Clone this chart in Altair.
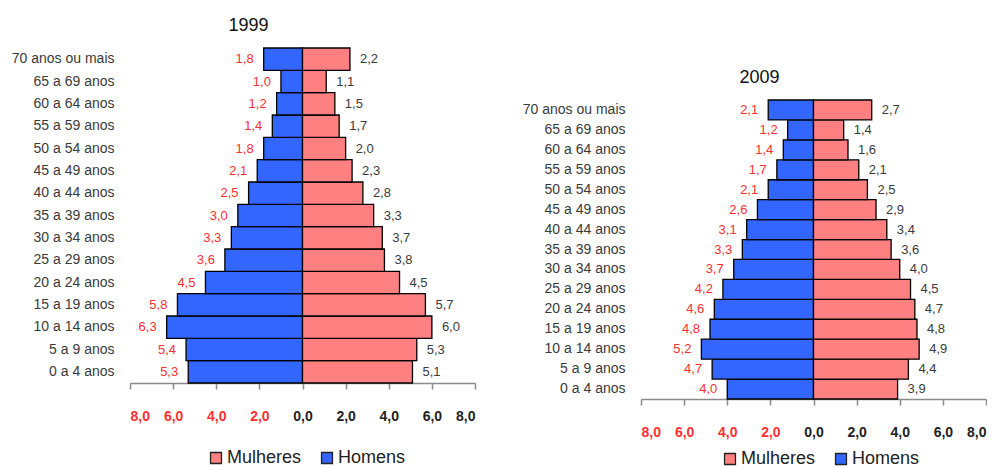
import altair as alt
import pandas as pd

ages = ["0 a 4 anos", "5 a 9 anos", "10 a 14 anos", "15 a 19 anos", "20 a 24 anos",
        "25 a 29 anos", "30 a 34 anos", "35 a 39 anos", "40 a 44 anos", "45 a 49 anos",
        "50 a 54 anos", "55 a 59 anos", "60 a 64 anos", "65 a 69 anos", "70 anos ou mais"]

homens_1999 = [5.3, 5.4, 6.3, 5.8, 4.5, 3.6, 3.3, 3.0, 2.5, 2.1, 1.8, 1.4, 1.2, 1.0, 1.8]
mulheres_1999 = [5.1, 5.3, 6.0, 5.7, 4.5, 3.8, 3.7, 3.3, 2.8, 2.3, 2.0, 1.7, 1.5, 1.1, 2.2]
homens_2009 = [4.0, 4.7, 5.2, 4.8, 4.6, 4.2, 3.7, 3.3, 3.1, 2.6, 2.1, 1.7, 1.4, 1.2, 2.1]
mulheres_2009 = [3.9, 4.4, 4.9, 4.8, 4.7, 4.5, 4.0, 3.6, 3.4, 2.9, 2.5, 2.1, 1.6, 1.4, 2.7]

sexes = ["Mulheres", "Homens"]
ticks = [-8, -6, -4, -2, 0, 2, 4, 6, 8]

PINK = "#FF8080"
BLUE = "#3366FF"
RED_TXT = "#FF3030"
GREY_TXT = "#3a3a3a"
FONT = "Liberation Sans, Arial, sans-serif"


def frame(homens, mulheres):
    rows = []
    for a, h, m in zip(ages, homens, mulheres):
        rows.append({"age": a, "sex": "Homens", "value": h, "signed": -h,
                     "label": f"{h:.1f}".replace(".", ",")})
        rows.append({"age": a, "sex": "Mulheres", "value": m, "signed": m,
                     "label": f"{m:.1f}".replace(".", ",")})
    return pd.DataFrame(rows)


def panel(year, homens, mulheres, height, legend_x, legend_y):
    df = frame(homens, mulheres)
    base = alt.Chart(df)
    order = list(reversed(ages))
    x = alt.X("signed:Q",
              scale=alt.Scale(domain=[-8, 8], nice=False, zero=False),
              axis=alt.Axis(values=ticks, title=None, grid=False,
                            labelExpr="replace(format(abs(datum.value), '.1f'), '.', ',')",
                            labelColor={"condition": {"test": "datum.value < 0", "value": RED_TXT},
                                        "value": "#222222"},
                            labelFont=FONT, labelFontSize=14, labelFontWeight="bold",
                            labelPadding=20, domainColor="#8a8a8a", domainWidth=1.5,
                            tickColor="#8a8a8a", tickSize=6, tickWidth=1.5))
    y = alt.Y("age:N", sort=order,
              scale=alt.Scale(paddingInner=0, paddingOuter=0),
              axis=alt.Axis(title=None, domain=False, ticks=False, labelPadding=16,
                            labelFont=FONT, labelFontSize=14, labelColor=GREY_TXT))
    bars = base.mark_bar(stroke="black", strokeWidth=1.3).encode(
        x=x, y=y,
        color=alt.Color("sex:N", scale=alt.Scale(domain=sexes, range=[PINK, BLUE]),
                        legend=alt.Legend(title=None, orient="none", direction="horizontal",
                                          legendX=legend_x, legendY=legend_y,
                                          labelFont=FONT, labelFontSize=18, labelColor="#222222",
                                          symbolType="square", symbolSize=120,
                                          symbolStrokeColor="#222222", symbolStrokeWidth=1.3,
                                          labelOffset=2, columnPadding=16)))
    left_txt = base.transform_filter(alt.datum.sex == "Homens").mark_text(
        align="right", dx=-10, font=FONT, fontSize=13, color=RED_TXT).encode(
        x="signed:Q", y=alt.Y("age:N", sort=order), text="label:N")
    right_txt = base.transform_filter(alt.datum.sex == "Mulheres").mark_text(
        align="left", dx=10, font=FONT, fontSize=13, color=GREY_TXT).encode(
        x="signed:Q", y=alt.Y("age:N", sort=order), text="label:N")
    return alt.layer(bars, left_txt, right_txt).properties(
        width=345, height=height,
        title=alt.TitleParams(year, font=FONT, fontSize=18, fontWeight="normal",
                              color="#111111", anchor="middle", dx=-54, offset=12))


left = panel("1999", homens_1999, mulheres_1999, 335, 77, 401)
right = panel("2009", homens_2009, mulheres_2009, 299, 80, 402)

spacer = alt.Chart(pd.DataFrame({"s": [0]})).mark_point(opacity=0, size=1).encode(
    x=alt.value(0), y=alt.value(0)).properties(width=1, height=21)

chart = alt.hconcat(
    left,
    alt.vconcat(spacer, right, spacing=0),
    spacing=46,
).resolve_scale(color="independent").resolve_legend(color="independent").properties(
    padding={"left": 3, "top": 9, "right": 0, "bottom": 0}
).configure_view(stroke=None)

chart.save("out.html", embed_options={"renderer": "svg", "actions": False})
